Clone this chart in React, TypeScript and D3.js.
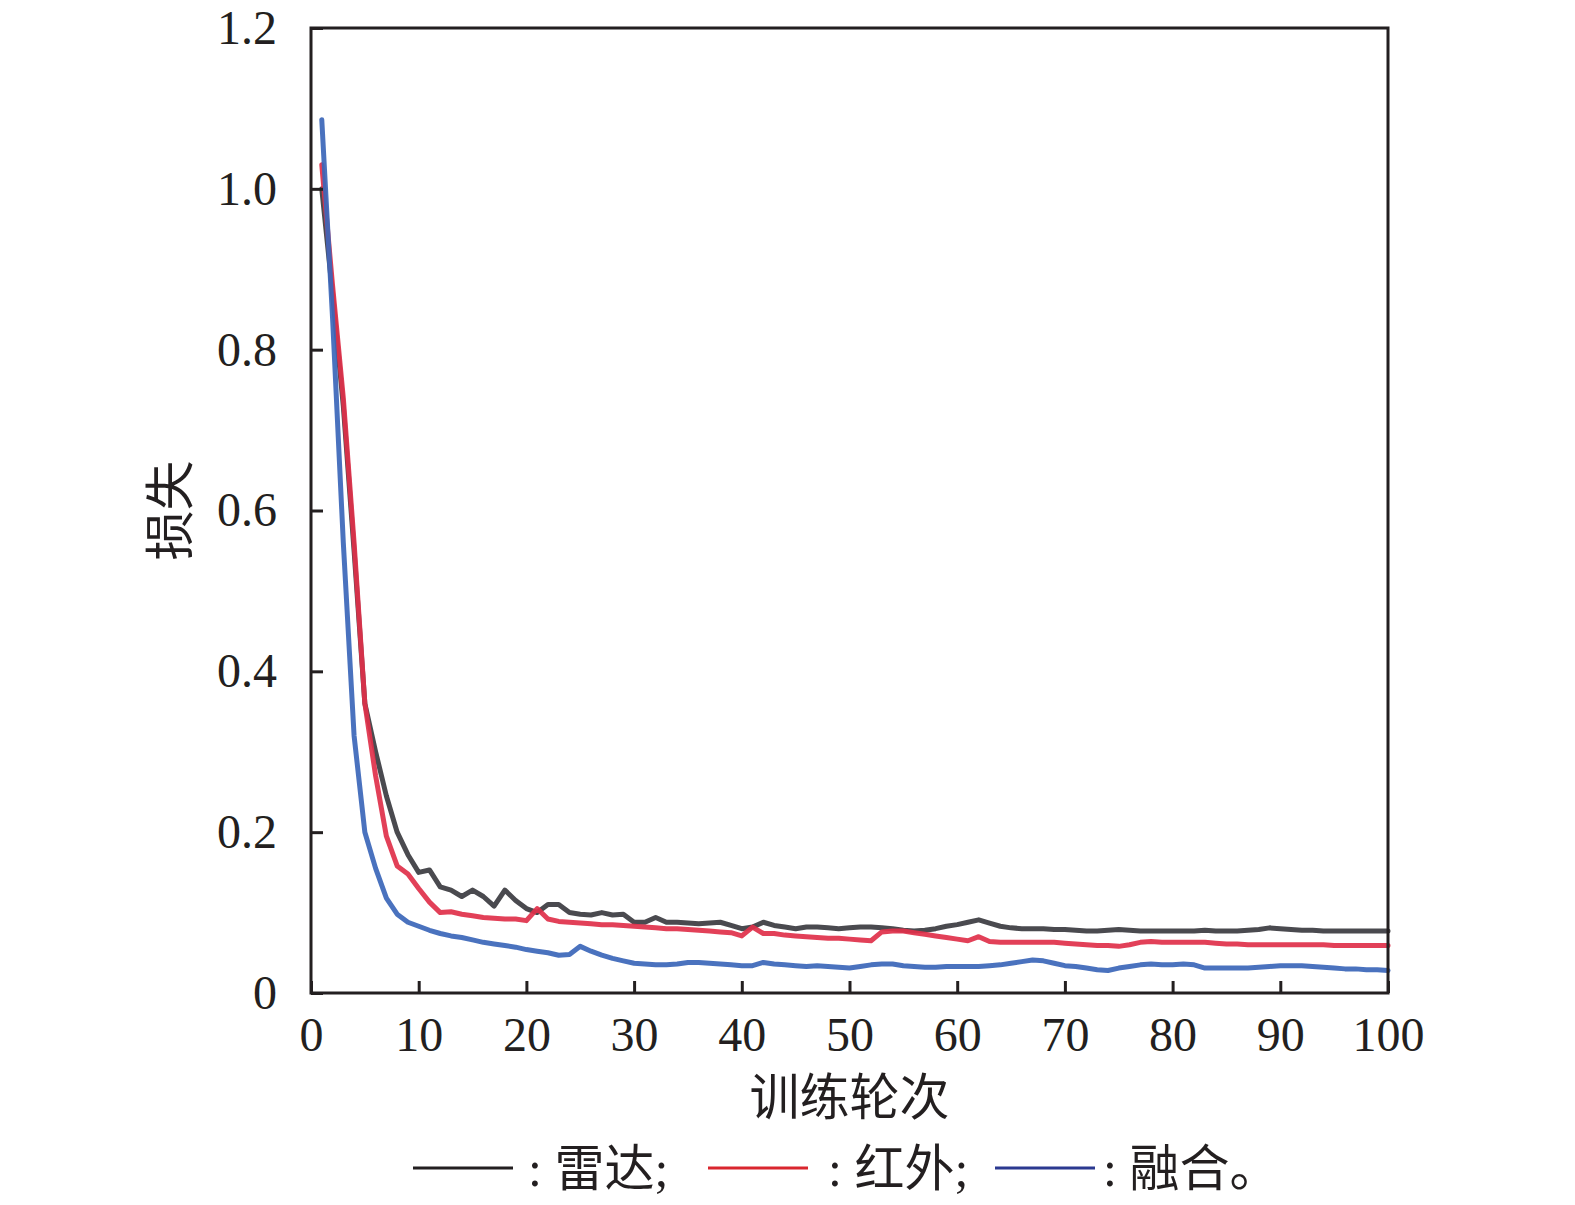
import { useEffect, useRef } from 'react';
import * as d3 from 'd3';

// epochs 1..100
const epochs = d3.range(1, 101);

const radarLoss = [
  1.0, 0.87, 0.73, 0.55, 0.36, 0.30, 0.245, 0.2, 0.172, 0.15,
  0.153, 0.132, 0.128, 0.12, 0.128, 0.12, 0.108, 0.128, 0.115, 0.105,
  0.1, 0.11, 0.11, 0.1, 0.098, 0.097, 0.1, 0.097, 0.098, 0.088,
  0.088, 0.094, 0.088, 0.088, 0.087, 0.086, 0.087, 0.088, 0.084, 0.08,
  0.082, 0.088, 0.084, 0.082, 0.08, 0.082, 0.082, 0.081, 0.08, 0.081,
  0.082, 0.082, 0.081, 0.08, 0.078, 0.077, 0.078, 0.08, 0.083, 0.085,
  0.088, 0.091, 0.087, 0.083, 0.081, 0.08, 0.08, 0.08, 0.079, 0.079,
  0.078, 0.077, 0.077, 0.078, 0.079, 0.078, 0.077, 0.077, 0.077, 0.077,
  0.077, 0.077, 0.078, 0.077, 0.077, 0.077, 0.078, 0.079, 0.081, 0.08,
  0.079, 0.078, 0.078, 0.077, 0.077, 0.077, 0.077, 0.077, 0.077, 0.077,
];

const infraredLoss = [
  1.03, 0.88, 0.74, 0.56, 0.36, 0.27, 0.195, 0.158, 0.148, 0.13,
  0.113, 0.1, 0.101, 0.098, 0.096, 0.094, 0.093, 0.092, 0.092, 0.09,
  0.105, 0.092, 0.089, 0.088, 0.087, 0.086, 0.085, 0.085, 0.084, 0.083,
  0.082, 0.081, 0.08, 0.08, 0.079, 0.078, 0.077, 0.076, 0.075, 0.071,
  0.082, 0.074, 0.074, 0.072, 0.071, 0.07, 0.069, 0.068, 0.068, 0.067,
  0.066, 0.065, 0.076, 0.077, 0.077, 0.075, 0.073, 0.071, 0.069, 0.067,
  0.065, 0.07, 0.064, 0.063, 0.063, 0.063, 0.063, 0.063, 0.063, 0.062,
  0.061, 0.06, 0.059, 0.059, 0.058, 0.06, 0.063, 0.064, 0.063, 0.063,
  0.063, 0.063, 0.063, 0.062, 0.061, 0.061, 0.06, 0.06, 0.06, 0.06,
  0.06, 0.06, 0.06, 0.06, 0.059, 0.059, 0.059, 0.059, 0.059, 0.059,
];

const fusionLoss = [
  1.086, 0.84, 0.56, 0.32, 0.2, 0.155, 0.118, 0.098, 0.088, 0.083,
  0.078, 0.074, 0.071, 0.069, 0.066, 0.063, 0.061, 0.059, 0.057, 0.054,
  0.052, 0.05, 0.047, 0.048, 0.058, 0.052, 0.047, 0.043, 0.04, 0.037,
  0.036, 0.035, 0.035, 0.036, 0.038, 0.038, 0.037, 0.036, 0.035, 0.034,
  0.034, 0.038, 0.036, 0.035, 0.034, 0.033, 0.034, 0.033, 0.032, 0.031,
  0.033, 0.035, 0.036, 0.036, 0.034, 0.033, 0.032, 0.032, 0.033, 0.033,
  0.033, 0.033, 0.034, 0.035, 0.037, 0.039, 0.041, 0.04, 0.037, 0.034,
  0.033, 0.031, 0.029, 0.028, 0.031, 0.033, 0.035, 0.036, 0.035, 0.035,
  0.036, 0.035, 0.031, 0.031, 0.031, 0.031, 0.031, 0.032, 0.033, 0.034,
  0.034, 0.034, 0.033, 0.032, 0.031, 0.03, 0.03, 0.029, 0.029, 0.028,
];

const xTicks = [0, 10, 20, 30, 40, 50, 60, 70, 80, 90, 100];
const yTicks = [0, 0.2, 0.4, 0.6, 0.8, 1.0, 1.2];

const seriesNames = ['雷达', '红外', '融合'];
const seriesColors = ['#3b3b40', '#e0304a', '#3b66b8'];
const legendColors = ['#231f20', '#d9262e', '#2b3990'];

const xLabel = '训练轮次';
const yLabel = '损失';

export default function App() {
  const ref = useRef<HTMLDivElement>(null);
  useEffect(() => {
    const width = 1575;
    const height = 1205;
    const left = 311;
    const right = 1388;
    const top = 28;
    const bottom = 993;
    const font = '"Liberation Serif", "Times New Roman", serif';
    const cjkFont = '"Liberation Serif", "Noto Sans CJK SC", serif';

    const x = d3.scaleLinear().domain([0, 100]).range([left, right]);
    const y = d3.scaleLinear().domain([0, 1.2]).range([bottom, top]);

    const svg = d3.create('svg')
      .attr('width', width)
      .attr('height', height)
      .attr('viewBox', [0, 0, width, height])
      .attr('style', 'position:absolute;left:0;top:0;background:#fff');

    const line = d3.line<number>()
      .x((_, i) => x(epochs[i]))
      .y((d) => y(d));

    // lines: radar, infrared, fusion (fusion on top)
    const all = [radarLoss, infraredLoss, fusionLoss];
    svg.append('g')
      .selectAll('path')
      .data(all)
      .join('path')
      .attr('d', (d) => line(d))
      .attr('fill', 'none')
      .attr('stroke', (_, i) => seriesColors[i])
      .attr('stroke-width', 5)
      .attr('stroke-linejoin', 'round')
      .attr('stroke-linecap', 'round')
      .attr('stroke-opacity', 0.92);

    // frame
    svg.append('rect')
      .attr('x', left)
      .attr('y', top)
      .attr('width', right - left)
      .attr('height', bottom - top)
      .attr('fill', 'none')
      .attr('stroke', '#231f20')
      .attr('stroke-width', 3);

    // bottom axis, ticks pointing inward
    svg.append('g')
      .attr('transform', `translate(0,${bottom})`)
      .call(d3.axisBottom(x).tickValues(xTicks).tickSize(-12).tickPadding(24).tickFormat(d3.format('d')))
      .call((g) => g.select('.domain').remove())
      .call((g) => g.selectAll('.tick line').attr('stroke', '#231f20').attr('stroke-width', 3))
      .call((g) => g.selectAll('.tick text')
        .attr('font-family', font)
        .attr('font-size', 48)
        .attr('fill', '#231f20'));

    // left axis
    svg.append('g')
      .attr('transform', `translate(${left},0)`)
      .call(d3.axisLeft(y).tickValues(yTicks).tickSize(-12).tickPadding(34)
        .tickFormat((d) => (+d === 0 ? '0' : d3.format('.1f')(+d))))
      .call((g) => g.select('.domain').remove())
      .call((g) => g.selectAll('.tick line').attr('stroke', '#231f20').attr('stroke-width', 3))
      .call((g) => g.selectAll('.tick text')
        .attr('font-family', font)
        .attr('font-size', 48)
        .attr('fill', '#231f20'));

    svg.append('text')
      .attr('x', (left + right) / 2)
      .attr('y', 1115)
      .attr('text-anchor', 'middle')
      .attr('font-family', cjkFont)
      .attr('font-size', 50)
      .attr('fill', '#231f20')
      .text(xLabel);

    svg.append('text')
      .attr('transform', `translate(188,${(top + bottom) / 2}) rotate(-90)`)
      .attr('text-anchor', 'middle')
      .attr('font-family', cjkFont)
      .attr('font-size', 50)
      .attr('fill', '#231f20')
      .text(yLabel);

    // legend
    const legendItems = [
      { x0: 413, tx: 528, label: `: ${seriesNames[0]};` },
      { x0: 708, tx: 828, label: `: ${seriesNames[1]};` },
      { x0: 995, tx: 1103, label: `: ${seriesNames[2]}。` },
    ];
    const lg = svg.append('g');
    legendItems.forEach((it, i) => {
      lg.append('line')
        .attr('x1', it.x0)
        .attr('x2', it.x0 + 100)
        .attr('y1', 1168)
        .attr('y2', 1168)
        .attr('stroke', legendColors[i])
        .attr('stroke-width', 3);
      lg.append('text')
        .attr('x', it.tx)
        .attr('y', 1186)
        .attr('font-family', cjkFont)
        .attr('font-size', 50)
        .attr('fill', '#231f20')
        .text(it.label);
    });

    const node = svg.node()!;
    ref.current?.append(node);
    return () => {
      node.remove();
    };
  }, []);
  return <div ref={ref} />;
}
